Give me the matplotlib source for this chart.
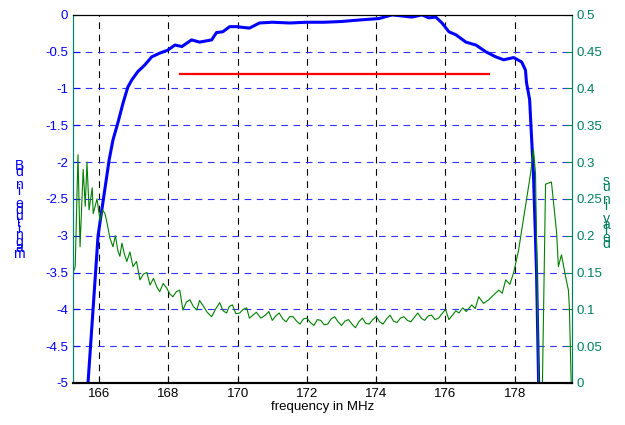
import matplotlib.pyplot as plt

plt.rcParams['font.family'] = ['Liberation Sans', 'DejaVu Sans']

# magnitude response (dB)
mag_freq = [165.68, 165.83, 165.97, 166.29, 166.40, 166.54, 166.69, 166.83, 166.95,
            167.12, 167.32, 167.52, 167.75, 167.98, 168.19, 168.39, 168.67, 168.90,
            169.25, 169.39, 169.57, 169.77, 169.97, 170.34, 170.63, 171.0, 171.5,
            172.0, 172.5, 173.0, 173.5, 174.08, 174.46, 175.03, 175.32, 175.52,
            175.72, 175.90, 176.10, 176.30, 176.59, 176.88, 177.16, 177.45, 177.68,
            177.97, 178.20, 178.31, 178.34, 178.43, 178.49, 178.54, 178.63, 178.69]
mag_db = [-5.0, -3.97, -3.0, -1.97, -1.70, -1.47, -1.2, -0.98, -0.88,
          -0.77, -0.68, -0.57, -0.52, -0.48, -0.41, -0.43, -0.34, -0.37,
          -0.34, -0.24, -0.23, -0.16, -0.16, -0.18, -0.11, -0.10, -0.11,
          -0.10, -0.10, -0.09, -0.07, -0.05, 0.0, -0.03, 0.0, -0.04,
          -0.03, -0.11, -0.23, -0.27, -0.37, -0.41, -0.5, -0.57, -0.61,
          -0.58, -0.64, -0.75, -0.92, -1.15, -1.70, -2.15, -3.5, -5.0]

# group delay (us)
gd_freq = [165.25, 165.31, 165.39, 165.45, 165.54, 165.60, 165.65, 165.71, 165.80, 165.83,
           165.94, 166.03, 166.10, 166.17, 166.24, 166.31, 166.40, 166.47, 166.54, 166.60,
           166.66, 166.73, 166.80, 166.89, 166.98, 167.08, 167.18, 167.28, 167.38, 167.47,
           167.57, 167.67, 167.75, 167.85, 167.95, 168.04, 168.13, 168.23, 168.33,
           168.42, 168.52, 168.62, 168.72, 168.82, 168.90, 168.99, 169.12, 169.25, 169.36,
           169.48, 169.58, 169.68, 169.76, 169.85, 169.95, 170.06, 170.16, 170.26, 170.34,
           170.44, 170.54, 170.67, 170.8, 170.9, 171.0, 171.1, 171.2, 171.3, 171.4, 171.5,
           171.6, 171.7, 171.8, 171.9, 172.0, 172.1, 172.2, 172.3, 172.4, 172.5, 172.6,
           172.7, 172.8, 172.9, 173.0, 173.1, 173.2, 173.3, 173.4, 173.5, 173.6, 173.7,
           173.8, 173.9, 174.0, 174.1, 174.2, 174.3, 174.4, 174.5, 174.6, 174.7, 174.8,
           174.9, 175.0, 175.1, 175.2, 175.3, 175.4, 175.5, 175.6, 175.7, 175.8, 175.9,
           176.0, 176.10, 176.2, 176.3, 176.39, 176.5, 176.6, 176.76, 176.86, 176.96,
           177.1, 177.25, 177.4, 177.54, 177.64, 177.74, 177.86, 177.97, 178.11,
           178.31, 178.46, 178.54, 178.60, 178.69, 178.80, 178.89, 179.06, 179.21,
           179.26, 179.35, 179.47, 179.55, 179.58, 179.63]
gd_us = [0.15, 0.158, 0.31, 0.185, 0.29, 0.24, 0.30, 0.235, 0.265, 0.23,
         0.25, 0.22, 0.235, 0.23, 0.215, 0.197, 0.185, 0.2, 0.18, 0.172,
         0.19, 0.175, 0.165, 0.178, 0.158, 0.165, 0.14, 0.148, 0.15, 0.133,
         0.142, 0.13, 0.124, 0.135, 0.129, 0.121, 0.117, 0.124, 0.126,
         0.099, 0.11, 0.113, 0.104, 0.099, 0.112, 0.106, 0.096, 0.09, 0.1,
         0.109, 0.098, 0.095, 0.104, 0.106, 0.094, 0.095, 0.1, 0.102, 0.088,
         0.092, 0.096, 0.088, 0.092, 0.097, 0.085, 0.091, 0.095, 0.087, 0.083, 0.09,
         0.09, 0.084, 0.08, 0.087, 0.088, 0.082, 0.078, 0.086, 0.085, 0.079, 0.08,
         0.087, 0.09, 0.083, 0.078, 0.084, 0.086, 0.08, 0.075, 0.083, 0.088, 0.081,
         0.08, 0.086, 0.09, 0.083, 0.08, 0.087, 0.092, 0.084, 0.082, 0.088, 0.09,
         0.085, 0.083, 0.089, 0.095, 0.088, 0.085, 0.091, 0.092, 0.086, 0.088, 0.094,
         0.1, 0.086, 0.092, 0.098, 0.095, 0.102, 0.097, 0.106, 0.101, 0.117,
         0.108, 0.113, 0.12, 0.126, 0.122, 0.14, 0.134, 0.15, 0.18,
         0.24, 0.285, 0.317, 0.285, 0.0, 0.0, 0.27, 0.273, 0.204,
         0.158, 0.174, 0.144, 0.126, 0.1, 0.0]

# passband spec line
spec_freq = [168.33, 177.25]
spec_db = [-0.8, -0.8]

x_ticks = [166, 168, 170, 172, 174, 176, 178]
left_ticks = [0, -0.5, -1, -1.5, -2, -2.5, -3, -3.5, -4, -4.5, -5]
right_ticks = [0, 0.05, 0.1, 0.15, 0.2, 0.25, 0.3, 0.35, 0.4, 0.45, 0.5]

fig = plt.figure(figsize=(6.25, 4.25), dpi=100)
ax = fig.add_axes([0.117, 0.099, 0.798, 0.866])
ax2 = ax.twinx()

ax.plot(mag_freq, mag_db, color='#0000ff', lw=2.2, zorder=5)
ax.plot(spec_freq, spec_db, color='#ff0000', lw=1.6, zorder=4)
ax2.plot(gd_freq, gd_us, color='#008000', lw=0.8)

ax.set_xlim(165.25, 179.65)
ax.set_ylim(-5, 0)
ax2.set_ylim(0, 0.5)

ax.set_xticks(x_ticks)
ax.set_xticklabels([str(t) for t in x_ticks])
ax.set_yticks(left_ticks)
ax.set_yticklabels(['%g' % t for t in left_ticks])
ax2.set_yticks(right_ticks)
ax2.set_yticklabels(['%g' % t for t in right_ticks])

for t in x_ticks:
    ax.axvline(t, color='black', ls=(0, (6, 5)), lw=0.8, zorder=1)
for t in left_ticks[1:-1]:
    ax.axhline(t, color='#3333ff', ls=(0, (6, 5)), lw=0.8, zorder=1)

ax.tick_params(axis='x', direction='in', length=5, labelsize=9.5, colors='black')
ax.tick_params(axis='y', direction='in', length=5, labelsize=9.5, colors='#0000ff')
ax2.tick_params(axis='y', direction='in', length=5, labelsize=9.5, colors='#008060')

for a in (ax, ax2):
    a.spines['bottom'].set_linewidth(1.5)
    a.spines['left'].set_color('#008080')
    a.spines['right'].set_color('#008060')
    a.spines['top'].set_color('black')

ax.set_xlabel('frequency in MHz', fontsize=9.5, labelpad=1)

# axis labels drawn as overlapping stacked letters (as in the original export)
def stacked(text, x_px, top_px, color, step=6.3):
    for i, ch in enumerate(reversed(text)):
        fig.text(x_px / 625, 1 - (top_px + i * step) / 425, ch, color=color,
                 fontsize=10, ha='center', va='center')

stacked('magnitude in dB', 19, 166, '#0000ff')
stacked('delay in us', 606, 181, '#008060')

fig.savefig('out.png', dpi=100)
